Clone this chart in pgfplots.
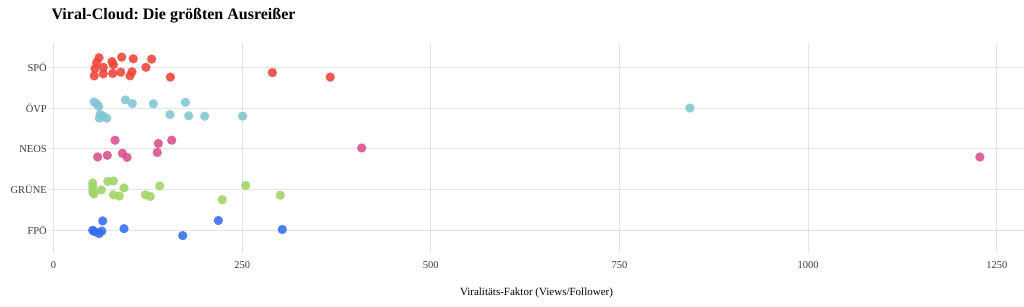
\documentclass[border=0pt]{standalone}
\usepackage{pgfplots}
\pgfplotsset{compat=1.18}
\usepackage{fontspec}
\setmainfont{Liberation Serif}
\frenchspacing
\definecolor{cSPO}{HTML}{EE4335}
\definecolor{cOVP}{HTML}{7FC5D2}
\definecolor{cNEOS}{HTML}{D84D8A}
\definecolor{cGRU}{HTML}{A0D465}
\definecolor{cFPO}{HTML}{336CF2}
\definecolor{gridc}{HTML}{E4E4E4}
\definecolor{tickc}{HTML}{3A3A3A}
\begin{document}
\begin{tikzpicture}[x=1pt,y=1pt]
\useasboundingbox (0,0) rectangle (1024,306);
\node[anchor=base west,font=\fontsize{16}{18}\selectfont\bfseries] at (48,286) {Viral-Cloud: Die größten Ausreißer};
\begin{axis}[
  at={(49pt,53pt)}, anchor=south west,
  scale only axis, width=975pt, height=209.7pt,
  xmin=-6, xmax=1286, ymin=-0.557, ymax=4.589,
  axis line style={draw=none},
  major tick length=0pt,
  xtick={0,250,500,750,1000,1250},
  ytick={0,1,2,3,4},
  yticklabels={FPÖ,GRÜNE,NEOS,ÖVP,SPÖ},
  xmajorgrids, ymajorgrids,
  major grid style={gridc, line width=0.8pt},
  /pgf/number format/assume math mode=true,
  /pgf/number format/1000 sep={},
  tick label style={font=\fontsize{10.5}{12}\selectfont, text=tickc},
  xticklabel style={anchor=center, yshift=-12pt},
  yticklabel style={anchor=east, inner xsep=2pt},
  xlabel={Viralitäts-Faktor (Views/Follower)},
  xlabel style={at={(axis description cs:0.5,0)}, anchor=center, yshift=-40pt, font=\fontsize{11}{13}\selectfont},
  clip=false,
  every axis plot/.append style={only marks, mark=*, mark size=4.5pt},
]
\addplot[mark options={draw=cFPO, fill=cFPO, opacity=0.88, line width=0.1pt}] table {
x y
65.2 0.23
51.9 0.00
54.0 -0.03
60.3 -0.08
63.9 -0.02
93.4 0.04
171.2 -0.13
218.4 0.24
303.1 0.02
};
\addplot[mark options={draw=cGRU, fill=cGRU, opacity=0.88, line width=0.1pt}] table {
x y
51.9 1.16
51.9 1.06
51.9 0.95
53.7 0.89
63.4 0.99
71.8 1.20
79.3 1.21
93.4 1.04
79.3 0.87
87.2 0.84
121.7 0.87
128.3 0.83
140.7 1.09
223.6 0.75
254.6 1.10
300.5 0.86
};
\addplot[mark options={draw=cNEOS, fill=cNEOS, opacity=0.88, line width=0.1pt}] table {
x y
81.5 2.21
138.9 2.13
156.6 2.21
408.3 2.02
58.5 1.80
71.3 1.84
91.2 1.89
97.4 1.79
137.5 1.91
1227.5 1.80
};
\addplot[mark options={draw=cOVP, fill=cOVP, opacity=0.88, line width=0.1pt}] table {
x y
53.7 3.15
57.2 3.105
59.9 3.04
61.6 2.84
60.7 2.75
65.2 2.81
70.5 2.75
95.2 3.20
104.4 3.11
132.3 3.105
174.7 3.14
154.3 2.84
179.1 2.81
200.3 2.80
250.6 2.80
843.3 3.00
};
\addplot[mark options={draw=cSPO, fill=cSPO, opacity=0.88, line width=0.1pt}] table {
x y
60.3 4.236
57.2 4.12
55.0 3.97
54.0 3.79
66.0 4.00
66.0 3.84
77.5 4.14
79.3 4.06
78.4 3.85
89.0 3.88
90.3 4.25
101.3 3.79
104.0 3.89
105.7 4.21
122.5 4.00
130.0 4.20
154.8 3.76
290.0 3.87
366.7 3.76
};
\end{axis}
\end{tikzpicture}
\end{document}
